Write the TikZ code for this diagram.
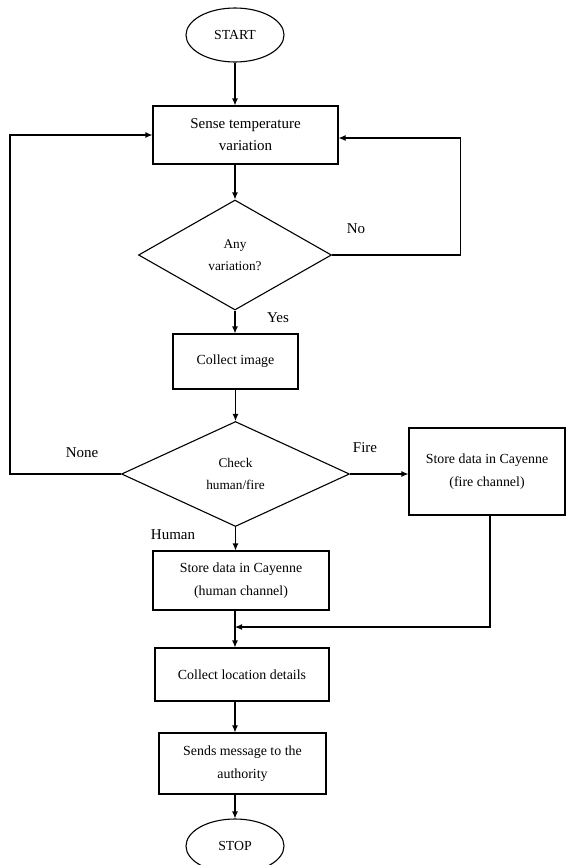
\documentclass[tikz,border=0pt]{standalone}
\usepackage{fontspec}
\setmainfont{Liberation Serif}
\usetikzlibrary{shapes.geometric,arrows.meta,calc}
\begin{document}
\begin{tikzpicture}[x=1pt,y=-1pt,
  every node/.style={inner sep=0pt,align=center},
  flowbox/.style={draw,line width=1.1pt,font=\fontsize{13.9}{22.5}\selectfont},
  decision/.style={draw,line width=1.1pt,diamond,font=\fontsize{13.3}{22}\selectfont},
  terminal/.style={draw,line width=1.1pt,ellipse,minimum width=98pt,minimum height=54pt,font=\fontsize{13.8}{16}\selectfont},
  lbl/.style={font=\fontsize{15}{18}\selectfont},
  conn/.style={line width=1.1pt},
  arr/.style={conn,-{Latex[length=7pt,width=6pt]}}
]
\useasboundingbox (0,0) rectangle (566,865);
\node[terminal] (start) at (235,35) {START};
\node[flowbox,minimum width=185pt,minimum height=58pt,font=\fontsize{15}{22}\selectfont] (sense) at (245.5,135) {Sense temperature\\variation};
\node[decision,minimum width=193pt,minimum height=110pt] (d1) at (235,255) {Any\\variation?};
\node[flowbox,minimum width=125pt,minimum height=55pt] (collect) at (235.5,361.5) {Collect image};
\node[decision,minimum width=228pt,minimum height=105pt] (d2) at (235.5,474) {Check\\human/fire};
\node[flowbox,minimum width=156pt,minimum height=87pt] (fire) at (487,471.5) {Store data in Cayenne\\(fire channel)};
\node[flowbox,minimum width=176pt,minimum height=59pt] (human) at (241,580.5) {Store data in Cayenne\\(human channel)};
\node[flowbox,minimum width=174pt,minimum height=53pt] (location) at (242,674.5) {Collect location details};
\node[flowbox,minimum width=167pt,minimum height=61pt] (sends) at (242.5,763.5) {Sends message to the\\authority};
\node[terminal] (stop) at (235,846) {STOP};
\coordinate (merge) at (235,627);

\node[lbl] (lno) at (356,229) {No};
\node[lbl] (lyes) at (278,318) {Yes};
\node[lbl] (lnone) at (82,453) {None};
\node[lbl] (lfire) at (365,448) {Fire};
\node[lbl] (lhuman) at (173,535) {Human};

\draw[arr] (start.south) -- (start.south |- sense.north);
\draw[arr] (d1.north |- sense.south) -- (d1.north);
\draw[arr] (d1.east) -- ++(128,0) |- ([yshift=-3pt]sense.east);
\draw[arr] (d1.south) -- (d1.south |- collect.north);
\draw[arr] (d2.north |- collect.south) -- (d2.north);
\draw[arr] (d2.west) -- ++(-111,0) |- (sense.west);
\draw[arr] (d2.east) -- (fire.west |- d2.east);
\draw[arr] (d2.south) -- (d2.south |- human.north);
\draw[conn] (merge |- human.south) -- (merge);
\draw[arr] ([xshift=3pt]fire.south) |- (merge);
\draw[arr] (merge) -- (merge |- location.north);
\draw[arr] (merge |- location.south) -- (merge |- sends.north);
\draw[arr] (merge |- sends.south) -- (stop.north);
\end{tikzpicture}
\end{document}
